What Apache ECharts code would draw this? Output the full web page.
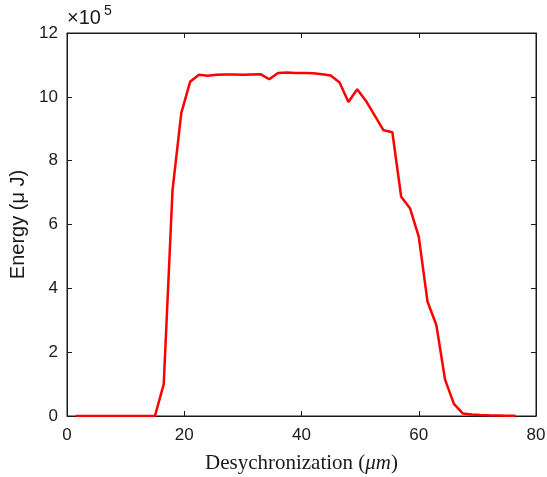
<!DOCTYPE html>
<html><head><meta charset="utf-8">
<script src="https://cdn.jsdelivr.net/npm/echarts@6/dist/echarts.min.js"></script>
<style>html,body{margin:0;padding:0;background:#fff;}#c{width:547px;height:477px;}</style>
</head><body><div id="c"></div>
<script>
// Desynchronization (µm)
var xValues = [1.5,3,4.5,6,7.5,9,10.5,12,13.5,15,16.5,18,19.5,21,22.5,24,25.5,27,28.5,30,31.5,33,34.5,36,37.5,39,40.5,42,43.5,45,46.5,48,49.5,51,52.5,54,55.5,57,58.5,60,61.5,63,64.5,66,67.5,69,70.5,72,73.5,75,76.5];
// Energy (µJ)
var energy = [0,0,0,0,0,0,0,0,0,0,100000,708000,950000,1047000,1069000,1066000,1069000,1070000,1070000,1069000,1070000,1071000,1055000,1075000,1076000,1075000,1075000,1074000,1071000,1067000,1045000,984000,1024000,987000,941000,895000,889000,687000,651000,562000,358000,285000,113000,38000,8000,5000,3000,2000,1500,1000,500];
var xTicks = [0,20,40,60,80];
var yTicks = [0,2,4,6,8,10,12];
var yScale = 100000;

var pts = xValues.map(function(x,i){return [x, energy[i]];});
var txt = '#1a1a1a';
var tickFont = 'Liberation Sans, Arial';
var chart = echarts.init(document.getElementById('c'));
chart.setOption({
  animation:false,
  backgroundColor:'#fff',
  grid:{left:67,right:11,top:33,bottom:61,containLabel:false,outerBoundsMode:'none',show:true,borderColor:txt,borderWidth:1,backgroundColor:'transparent'},
  xAxis:[{
    type:'value',min:xTicks[0],max:xTicks[xTicks.length-1],interval:20,
    axisLine:{lineStyle:{color:txt,width:1}},
    axisTick:{inside:true,length:5,lineStyle:{color:txt}},
    axisLabel:{color:txt,fontFamily:tickFont,fontSize:17,margin:11},
    splitLine:{show:false},
    name:'{n|Desychronization (}{i|μm}{n|)}',
    nameLocation:'middle',nameGap:37,
    nameTextStyle:{rich:{
      n:{fontFamily:'Liberation Serif, DejaVu Serif',fontSize:21,color:txt},
      i:{fontFamily:'Liberation Serif, DejaVu Serif',fontStyle:'italic',fontSize:21,color:txt}
    }}
  },{
    type:'value',position:'top',min:0,max:80,interval:20,show:true,
    axisLine:{show:true,onZero:false,lineStyle:{color:txt,width:1}},
    axisTick:{show:true,inside:true,length:5,lineStyle:{color:txt}},
    axisLabel:{show:false},splitLine:{show:false}
  }],
  yAxis:[{
    type:'value',min:0,max:12*yScale,interval:2*yScale,
    axisLine:{show:true,lineStyle:{color:txt,width:1}},
    axisTick:{show:true,inside:true,length:5,lineStyle:{color:txt}},
    axisLabel:{color:txt,fontFamily:tickFont,fontSize:17,margin:9,
      formatter:function(v){return String(Math.round(v/yScale));}},
    splitLine:{show:false},
    name:'Energy (μ J)',nameLocation:'middle',nameGap:34,nameRotate:90,
    nameTextStyle:{fontFamily:tickFont,fontSize:20,color:txt}
  },{
    type:'value',position:'right',min:0,max:12*yScale,interval:2*yScale,show:true,
    axisLine:{show:true,onZero:false,lineStyle:{color:txt,width:1}},
    axisTick:{show:true,inside:true,length:5,lineStyle:{color:txt}},
    axisLabel:{show:false},splitLine:{show:false}
  }],
  graphic:[
    {type:'text',left:67,top:8,style:{text:'×10',font:'20px "Liberation Sans", Arial',fill:txt}},
    {type:'text',left:104,top:4,style:{text:'5',font:'14px "Liberation Sans", Arial',fill:txt}}
  ],
  series:[{
    type:'line',xAxisIndex:0,yAxisIndex:0,data:pts,
    showSymbol:false,symbol:'none',
    lineStyle:{color:'#ff0000',width:2.5},
    itemStyle:{color:'#ff0000'}
  },{
    type:'line',xAxisIndex:1,yAxisIndex:1,data:[],symbol:'none',silent:true
  }]
});
</script></body></html>
